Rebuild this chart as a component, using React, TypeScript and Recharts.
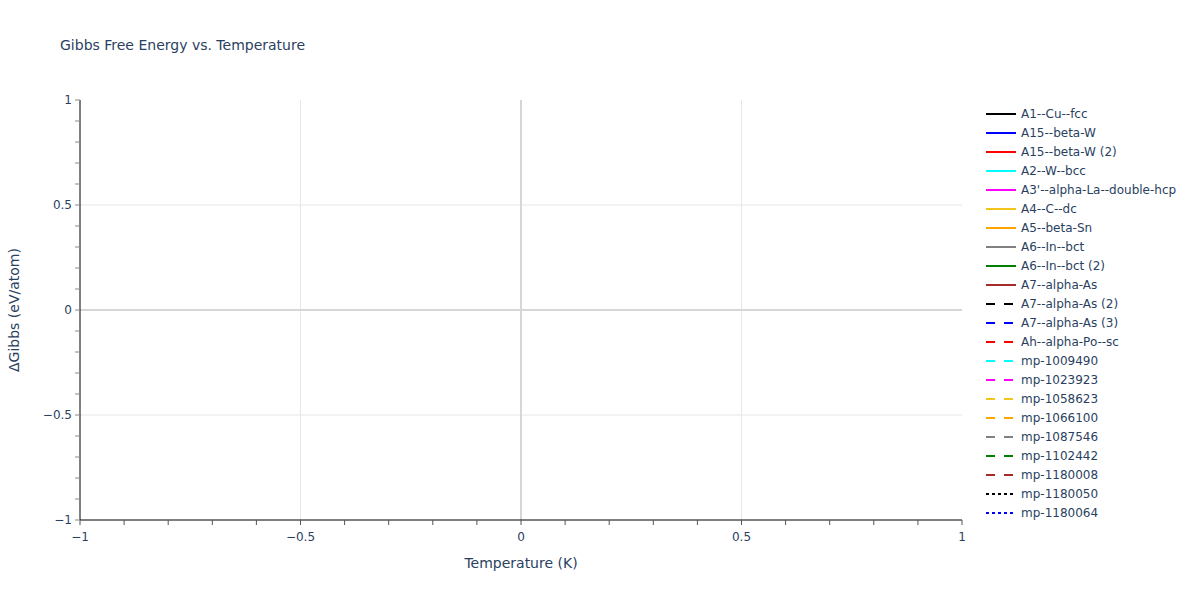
import { LineChart, Line, XAxis, YAxis, CartesianGrid, ReferenceLine, Legend } from "recharts";

// phase names as listed in the legend, in order
const phaseNames = [
  "A1--Cu--fcc",
  "A15--beta-W",
  "A15--beta-W (2)",
  "A2--W--bcc",
  "A3'--alpha-La--double-hcp",
  "A4--C--dc",
  "A5--beta-Sn",
  "A6--In--bct",
  "A6--In--bct (2)",
  "A7--alpha-As",
  "A7--alpha-As (2)",
  "A7--alpha-As (3)",
  "Ah--alpha-Po--sc",
  "mp-1009490",
  "mp-1023923",
  "mp-1058623",
  "mp-1066100",
  "mp-1087546",
  "mp-1102442",
  "mp-1180008",
  "mp-1180050",
  "mp-1180064",
];

const phaseColors = [
  "black", "blue", "red", "cyan", "magenta", "#f2c41c", "orange", "gray", "green", "brown",
  "black", "blue", "red", "cyan", "magenta", "#f2c41c", "orange", "gray", "green", "brown",
  "black", "blue",
];

const phaseDash = [
  "solid", "solid", "solid", "solid", "solid", "solid", "solid", "solid", "solid", "solid",
  "dash", "dash", "dash", "dash", "dash", "dash", "dash", "dash", "dash", "dash",
  "dot", "dot",
];

// no temperature/energy points were plotted: every trace is empty
const gibbsPoints: { t: number; g: number }[][] = phaseNames.map(() => []);

const xTicks = [-1, -0.9, -0.8, -0.7, -0.6, -0.5, -0.4, -0.3, -0.2, -0.1, 0, 0.1, 0.2, 0.3, 0.4, 0.5, 0.6, 0.7, 0.8, 0.9, 1];
const yTicks = xTicks;
const majorTicks = [-1, -0.5, 0, 0.5, 1];
const gridValues = [-0.5, 0.5];

const FONT = '"DejaVu Sans", verdana, arial, sans-serif';
const TEXT = "#2a3f5f";

const dashArray = (d: string) => (d === "dash" ? "9 9" : d === "dot" ? "3 3" : undefined);

const fmt = (v: number) => {
  if (!majorTicks.some((m) => Math.abs(m - v) < 1e-9)) return "";
  const s = String(Math.abs(v));
  return v < 0 ? "\u2212" + s : s;
};

const LegendBox = () => (
  <svg width={200} height={420} style={{ display: "block", overflow: "visible" }}>
    {phaseNames.map((name, i) => {
      const y = 14 + i * 19;
      return (
        <g key={name}>
          <line
            x1={24}
            x2={54}
            y1={y}
            y2={y}
            stroke={phaseColors[i]}
            strokeWidth={2}
            strokeDasharray={dashArray(phaseDash[i])}
          />
          <text x={59} y={y} dy="0.35em" fontSize={12} fontFamily={FONT} fill={TEXT}>
            {name}
          </text>
        </g>
      );
    })}
  </svg>
);

export default function App() {
  return (
    <div style={{ position: "absolute", left: 0, top: 0, width: 1200, height: 600, background: "#fff", fontFamily: FONT }}>
      <LineChart width={1200} height={600} margin={{ top: 100, right: 38, bottom: 50, left: 40 }}>
        <CartesianGrid
          horizontalValues={gridValues}
          verticalValues={gridValues}
          stroke="#e6e6e6"
          strokeWidth={1}
        />
        <ReferenceLine x={0} stroke="#d6d6d6" strokeWidth={2} />
        <ReferenceLine y={0} stroke="#d6d6d6" strokeWidth={2} />
        <XAxis
          type="number"
          dataKey="t"
          domain={[-1, 1]}
          ticks={xTicks}
          interval={0}
          tickFormatter={fmt}
          height={30}
          stroke="#000"
          tickLine={{ stroke: "#555" }}
          tickSize={5}
          tickMargin={7}
          tick={{ fill: TEXT, fontSize: 12, fontFamily: FONT }}
          allowDataOverflow
        />
        <YAxis
          type="number"
          dataKey="g"
          domain={[-1, 1]}
          ticks={yTicks}
          interval={0}
          tickFormatter={fmt}
          width={40}
          stroke="#000"
          tickLine={{ stroke: "#888" }}
          tickSize={5}
          tickMargin={3}
          tick={{ fill: TEXT, fontSize: 12, fontFamily: FONT }}
          allowDataOverflow
        />
        <Legend
          layout="vertical"
          align="right"
          verticalAlign="top"
          content={() => <LegendBox />}
          wrapperStyle={{ width: 200 }}
        />
        {phaseNames.map((name, i) => (
          <Line
            key={name}
            name={name}
            data={gibbsPoints[i]}
            dataKey="g"
            stroke={phaseColors[i]}
            strokeWidth={2}
            strokeDasharray={dashArray(phaseDash[i])}
            dot={false}
            isAnimationActive={false}
          />
        ))}
        <text x={60} y={50} fontSize={14} fontFamily={FONT} fill={TEXT}>
          Gibbs Free Energy vs. Temperature
        </text>
        <text x={521} y={568} textAnchor="middle" fontSize={14} fontFamily={FONT} fill={TEXT}>
          Temperature (K)
        </text>
        <text
          x={19}
          y={310}
          textAnchor="middle"
          fontSize={14}
          fontFamily={FONT}
          fill={TEXT}
          transform="rotate(-90 19 310)"
        >
          ΔGibbs (eV/atom)
        </text>
      </LineChart>
    </div>
  );
}
